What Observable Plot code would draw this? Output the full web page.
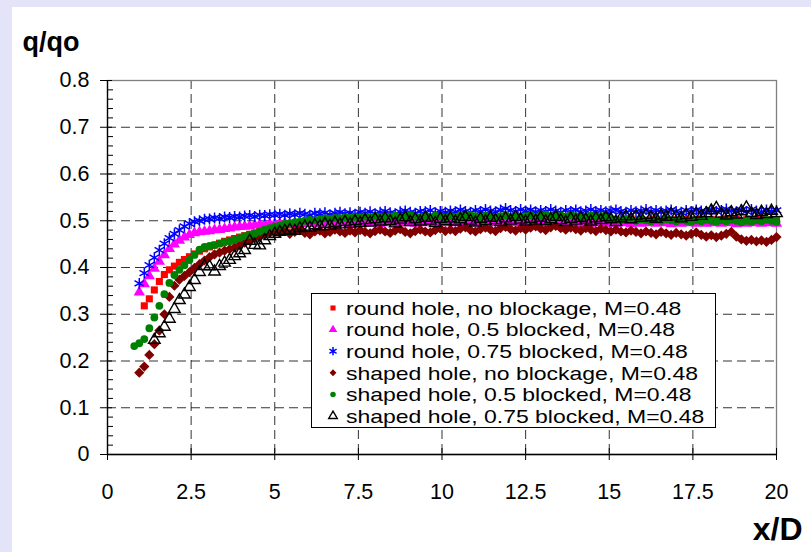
<!DOCTYPE html>
<html>
<head>
<meta charset="utf-8">
<script src="https://cdn.jsdelivr.net/npm/d3@7"></script>
<script src="https://cdn.jsdelivr.net/npm/@observablehq/plot@0.6"></script>
<style>
  html, body { margin: 0; padding: 0; background: #e4e4f8; width: 811px; height: 552px; overflow: hidden; }
  #chart { position: absolute; left: 12px; top: 7px; width: 799px; height: 545px; background: #fff; }
</style>
</head>
<body>
<div id="chart"></div>
<script>
// ---- Data ----
const xD = [
  0.80,0.95,1.10,1.25,1.40,1.55,1.70,1.85,2.00,2.15,
  2.30,2.45,2.60,2.75,2.90,3.05,3.20,3.35,3.50,3.65,
  3.80,3.95,4.10,4.25,4.40,4.55,4.70,4.85,5.00,5.15,
  5.30,5.45,5.60,5.75,5.90,6.05,6.20,6.35,6.50,6.65,
  6.80,6.95,7.10,7.25,7.40,7.55,7.70,7.85,8.00,8.15,
  8.30,8.45,8.60,8.75,8.90,9.05,9.20,9.35,9.50,9.65,
  9.80,9.95,10.10,10.25,10.40,10.55,10.70,10.85,11.00,11.15,
  11.30,11.45,11.60,11.75,11.90,12.05,12.20,12.35,12.50,12.65,
  12.80,12.95,13.10,13.25,13.40,13.55,13.70,13.85,14.00,14.15,
  14.30,14.45,14.60,14.75,14.90,15.05,15.20,15.35,15.50,15.65,
  15.80,15.95,16.10,16.25,16.40,16.55,16.70,16.85,17.00,17.15,
  17.30,17.45,17.60,17.75,17.90,18.05,18.20,18.35,18.50,18.65,
  18.80,18.95,19.10,19.25,19.40,19.55,19.70,19.85,20.00
];

const roundNoBlock = [
  null, null,
  0.318,0.333,0.352,0.370,0.385,0.395,0.403,0.411,0.417,0.423,0.429,0.435,0.440,0.444,
  0.448,0.452,0.456,0.459,0.462,0.465,0.468,0.471,0.474,0.477,0.480,0.483,0.486,
  0.488,0.490,0.491,0.493,0.492,0.494,0.495,0.494,0.496,0.497,0.495,0.498,0.497,0.499,0.498,0.500,0.499,
  0.501,0.499,0.502,0.500,0.503,0.501,0.500,0.502,0.504,0.501,0.503,0.500,0.502,0.504,0.501,0.503,0.502,
  0.504,0.501,0.503,0.505,0.502,0.504,0.501,0.503,0.505,0.502,0.504,0.503,0.501,0.504,0.502,0.505,
  0.503,0.501,0.504,0.502,0.505,0.503,0.501,0.504,0.502,0.500,0.503,0.501,0.504,0.502,0.500,0.503,0.501,
  0.503,0.500,0.502,0.504,0.501,0.503,0.500,0.502,0.504,0.501,0.503,0.500,0.502,0.501,0.503,0.500,0.502,
  0.504,0.501,0.503,0.500,0.502,0.504,0.501,0.503,0.500,0.502,0.504,0.501,0.503,0.500,0.502,0.503
];

const roundHalfBlock = [
  null,
  0.347,0.365,0.382,0.398,0.413,0.427,0.440,0.450,0.458,0.465,0.470,0.474,0.476,0.477,0.478,
  0.480,0.481,0.483,0.484,0.486,0.487,0.488,0.489,0.491,0.492,0.493,0.493,0.494,
  0.494,0.495,0.493,0.495,0.494,0.496,0.494,0.495,0.493,0.496,0.495,0.494,0.496,0.495,0.493,0.495,0.496,
  0.494,0.496,0.495,0.493,0.495,0.496,0.494,0.495,0.497,0.495,0.494,0.496,0.495,0.497,0.494,0.496,0.495,
  0.497,0.495,0.496,0.494,0.497,0.495,0.496,0.498,0.495,0.497,0.496,0.494,0.497,0.495,0.496,0.498,
  0.495,0.497,0.496,0.494,0.497,0.495,0.496,0.494,0.497,0.495,0.493,0.496,0.494,0.495,0.497,0.494,0.496,
  0.494,0.496,0.495,0.493,0.496,0.494,0.495,0.497,0.494,0.496,0.495,0.493,0.496,0.494,0.495,0.497,0.494,
  0.496,0.494,0.495,0.497,0.494,0.496,0.495,0.493,0.496,0.494,0.495,0.497,0.494,0.496,0.495,0.494
];

const roundThreeQBlock = [
  null,
  0.366,0.388,0.405,0.421,0.437,0.451,0.463,0.472,0.480,0.488,0.494,0.498,0.500,0.503,0.504,
  0.506,0.505,0.508,0.507,0.509,0.508,0.510,0.511,0.509,0.512,0.511,0.513,0.512,
  0.514,0.512,0.515,0.513,0.516,0.514,0.512,0.516,0.515,0.517,0.513,0.516,0.518,0.515,0.517,0.514,0.518,
  0.516,0.519,0.515,0.518,0.520,0.517,0.515,0.519,0.521,0.518,0.516,0.520,0.519,0.522,0.517,0.520,0.518,
  0.521,0.519,0.523,0.520,0.518,0.522,0.520,0.524,0.521,0.519,0.523,0.526,0.522,0.520,0.524,0.521,
  0.523,0.519,0.522,0.520,0.524,0.521,0.518,0.522,0.520,0.523,0.519,0.521,0.524,0.520,0.522,0.519,0.521,
  0.523,0.520,0.518,0.522,0.519,0.521,0.524,0.520,0.522,0.519,0.521,0.523,0.520,0.518,0.522,0.520,0.523,
  0.521,0.519,0.523,0.520,0.522,0.525,0.521,0.519,0.523,0.520,0.524,0.521,0.519,0.523,0.520,0.522
];

const shapedNoBlock = [
  null,
  0.175,0.188,0.213,0.236,0.265,0.300,0.337,0.361,0.374,0.382,0.390,0.399,0.407,0.415,0.422,
  0.428,0.432,0.436,0.439,0.443,0.448,0.453,0.457,0.462,0.466,0.470,0.474,0.476,
  0.474,0.478,0.472,0.476,0.480,0.474,0.471,0.477,0.479,0.473,0.476,0.481,0.477,0.474,0.479,0.475,0.480,
  0.476,0.473,0.478,0.481,0.477,0.474,0.479,0.482,0.476,0.473,0.478,0.481,0.477,0.475,0.480,0.483,0.478,
  0.481,0.478,0.483,0.486,0.480,0.477,0.482,0.485,0.481,0.478,0.484,0.487,0.482,0.479,0.484,0.481,
  0.485,0.488,0.483,0.480,0.486,0.489,0.484,0.481,0.485,0.482,0.479,0.484,0.481,0.478,0.483,0.480,0.477,
  0.481,0.477,0.475,0.479,0.476,0.473,0.477,0.474,0.471,0.476,0.473,0.470,0.474,0.471,0.468,0.472,0.475,
  0.470,0.466,0.469,0.465,0.468,0.472,0.476,0.466,0.460,0.457,0.459,0.456,0.458,0.455,0.459,0.465
];

const shapedHalfBlock = [
  0.232,0.238,0.247,0.270,0.293,0.318,0.343,0.367,0.384,0.395,0.405,0.416,0.427,0.438,0.444,0.446,
  0.448,0.451,0.454,0.456,0.459,0.463,0.467,0.470,0.473,0.477,0.481,0.484,0.488,
  0.490,0.493,0.495,0.497,0.498,0.500,0.502,0.501,0.503,0.505,0.504,0.506,0.505,0.507,0.506,0.508,0.507,
  0.509,0.507,0.510,0.508,0.506,0.509,0.511,0.508,0.510,0.512,0.509,0.507,0.510,0.508,0.511,0.509,0.507,
  0.510,0.508,0.511,0.509,0.512,0.510,0.508,0.511,0.509,0.507,0.510,0.512,0.509,0.511,0.508,0.510,
  0.512,0.509,0.511,0.513,0.510,0.508,0.511,0.509,0.512,0.510,0.507,0.509,0.511,0.508,0.510,0.506,0.504,
  0.503,0.501,0.504,0.502,0.500,0.503,0.501,0.499,0.502,0.500,0.503,0.501,0.499,0.502,0.500,0.498,0.501,
  0.499,0.502,0.500,0.498,0.501,0.499,0.502,0.500,0.497,0.500,0.498,0.501,0.499,0.502,0.500,0.498
];

const shapedThreeQBlock = [
  null, null, null, null,
  0.245,0.259,0.273,0.290,0.311,0.330,0.342,0.358,0.373,0.390,0.403,0.402,
  0.391,0.403,0.410,0.416,0.424,0.430,0.437,0.457,0.448,0.447,0.458,0.467,0.472,
  0.476,0.478,0.480,0.478,0.484,0.487,0.485,0.490,0.488,0.493,0.489,0.495,0.492,0.497,0.493,0.499,0.495,
  0.501,0.496,0.503,0.498,0.505,0.499,0.494,0.502,0.507,0.497,0.503,0.498,0.506,0.500,0.495,0.504,0.499,
  0.505,0.498,0.503,0.508,0.500,0.496,0.504,0.499,0.506,0.501,0.497,0.505,0.500,0.508,0.502,0.498,
  0.504,0.500,0.506,0.499,0.503,0.508,0.501,0.497,0.504,0.500,0.506,0.502,0.498,0.505,0.501,0.507,0.503,
  0.497,0.505,0.509,0.503,0.510,0.506,0.512,0.507,0.504,0.511,0.508,0.514,0.509,0.505,0.512,0.508,0.515,
  0.510,0.516,0.522,0.527,0.515,0.511,0.518,0.513,0.520,0.528,0.516,0.512,0.519,0.514,0.521,0.516
];

const seriesNames = [
  "round hole, no blockage, M=0.48",
  "round hole, 0.5 blocked, M=0.48",
  "round hole, 0.75 blocked, M=0.48",
  "shaped hole, no blockage, M=0.48",
  "shaped hole, 0.5 blocked, M=0.48",
  "shaped hole, 0.75 blocked, M=0.48"
];
const seriesValues = [roundNoBlock, roundHalfBlock, roundThreeQBlock, shapedNoBlock, shapedHalfBlock, shapedThreeQBlock];

const xTicks = [0, 2.5, 5, 7.5, 10, 12.5, 15, 17.5, 20];
const yTicks = [0, 0.1, 0.2, 0.3, 0.4, 0.5, 0.6, 0.7, 0.8];
const yMinorStep = 0.02;

// ---- Styles per series ----
const styles = [
  {symbol: "square",   fill: "#ff0000", stroke: "none",    r: 4.0, sw: 0},
  {symbol: "triangle", fill: "#ff00ff", stroke: "none",    r: 4.2, sw: 0},
  {symbol: "asterisk", fill: "none",    stroke: "#0000ff", r: 5.2, sw: 1.5},
  {symbol: "diamond2", fill: "#800000", stroke: "none",    r: 4.6, sw: 0},
  {symbol: "circle",   fill: "#008000", stroke: "none",    r: 3.9, sw: 0},
  {symbol: "triangle", fill: "none",    stroke: "#000000", r: 4.3, sw: 1.4}
];
const legendSizes = [26, 32, 48, 30, 24, 32];

const W = 799, H = 545;
const mL = 95, mR = 35, mT = 73, mB = 98;
const plotW = W - mL - mR, plotH = H - mT - mB;

const series = seriesValues.map((vals, k) =>
  xD.map((x, i) => ({x, y: vals[i], name: seriesNames[k]})).filter(d => d.y != null)
);

const yMinor = d3.range(0, 0.8 + 1e-9, yMinorStep).map(v => +v.toFixed(2))
  .filter(v => Math.abs(Math.round(v * 10) - v * 10) > 1e-6);

const font = "'Liberation Sans', Arial, sans-serif";

function legendMark(index, scales, values, dimensions) {
  const g = d3.create("svg:g");
  const bx = 299, by = 286, bw = 404, bh = 134;
  g.append("rect").attr("x", bx + 0.5).attr("y", by + 0.5).attr("width", bw).attr("height", bh)
    .attr("fill", "#fff").attr("stroke", "#000").attr("stroke-width", 1);
  const rowY = [301, 322.6, 344.2, 365.8, 387.4, 409];
  const symMap = {square: d3.symbolSquare, triangle: d3.symbolTriangle, asterisk: d3.symbolAsterisk,
                  diamond2: d3.symbolDiamond2, circle: d3.symbolCircle};
  seriesNames.forEach((name, k) => {
    const s = styles[k];
    g.append("path")
      .attr("transform", `translate(321,${rowY[k]})`)
      .attr("d", d3.symbol(symMap[s.symbol], legendSizes[k])())
      .attr("fill", s.fill).attr("stroke", s.stroke).attr("stroke-width", s.sw || null);
    g.append("text").attr("transform", `translate(334,${rowY[k]}) scale(1.21,1)`).attr("dy", "0.36em")
      .attr("text-anchor", "start")
      .attr("font-size", 19).attr("font-family", font).attr("fill", "#000")
      .text(name);
  });
  return g.node();
}

const chart = Plot.plot({
  width: W, height: H,
  marginLeft: mL, marginRight: mR, marginTop: mT, marginBottom: mB,
  style: {background: "#fff", fontFamily: font, color: "#000", overflow: "visible"},
  x: {domain: [0, 20]},
  y: {domain: [0, 0.8]},
  marks: [
    Plot.gridY(yTicks.filter(d => d > 0 && d < 0.8), {stroke: "#000", strokeOpacity: 0.8, strokeDasharray: "9,5"}),
    Plot.gridX(xTicks.filter(d => d > 0 && d < 20), {stroke: "#000", strokeOpacity: 0.8, strokeDasharray: "9,5"}),
    Plot.frame({stroke: "#808080", strokeWidth: 1.3}),
    Plot.tickY(yMinor, {y: d => d, insetRight: plotW - 6, stroke: "#000"}),
    Plot.tickY(yTicks, {y: d => d, insetRight: plotW - 5, stroke: "#000"}),
    Plot.tickX(xTicks, {x: d => d, insetTop: plotH - 6, stroke: "#000"}),
    Plot.axisY(yTicks, {tickSize: 7, tickPadding: 11, fontSize: 21.5, label: null,
      tickFormat: d => d === 0 ? "0" : d.toFixed(1)}),
    Plot.axisX(xTicks, {tickSize: 6, tickPadding: 23, fontSize: 21.5, label: null,
      tickFormat: d => String(d)}),
    Plot.ruleX([0], {stroke: "#000", strokeWidth: 1.3}),
    Plot.ruleY([0], {stroke: "#000", strokeWidth: 1.3}),
    ...series.map((data, k) => Plot.dot(data, {
      x: "x", y: "y", symbol: () => styles[k].symbol, r: styles[k].r,
      fill: styles[k].fill, stroke: styles[k].stroke, strokeWidth: styles[k].sw
    })),
    legendMark,
    Plot.text(["q/qo"], {frameAnchor: "top-left", text: d => d, textAnchor: "start", lineAnchor: "bottom",
      dx: -85, dy: -30, fontSize: 27, fontWeight: "bold", fill: "#000"}),
    Plot.text(["x/D"], {frameAnchor: "bottom-right", text: d => d, textAnchor: "end", lineAnchor: "bottom",
      dx: 26, dy: 85, fontSize: 32, fontWeight: "bold", fill: "#000"})
  ]
});

document.getElementById("chart").appendChild(chart);
</script>
</body>
</html>
